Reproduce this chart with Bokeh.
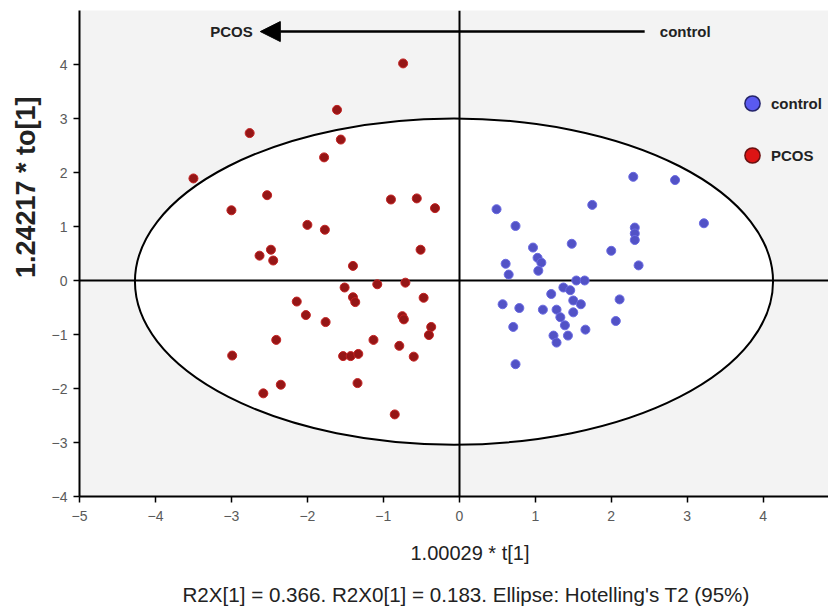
from bokeh.plotting import figure
from bokeh.models import (Range1d, Legend, LegendItem, Arrow, NormalHead, Title,
                          FixedTicker, ColumnDataSource, LabelSet)
from bokeh.core.properties import value
from bokeh.embed import file_html
from bokeh.resources import INLINE

# ---- data ----
pcos_x = [-0.74, -1.61, -2.76, -3.50, -1.78, -1.56, -2.53, -3.00, -0.90, -0.56,
          -0.32, -2.00, -1.77, -2.63, -2.48, -2.45, -1.40, -0.51, -1.51, -1.08,
          -0.71, -1.40, -1.37, -0.47, -2.14, -2.02, -1.76, -0.75, -0.73, -0.37,
          -0.40, -2.41, -1.13, -0.79, -2.99, -1.53, -1.43, -1.33, -0.60, -2.35,
          -1.34, -2.58, -0.85]
pcos_y = [4.02, 3.16, 2.73, 1.89, 2.28, 2.61, 1.58, 1.30, 1.50, 1.52,
          1.34, 1.03, 0.94, 0.46, 0.57, 0.37, 0.27, 0.57, -0.13, -0.07,
          -0.04, -0.31, -0.40, -0.32, -0.39, -0.64, -0.77, -0.66, -0.72, -0.86,
          -1.01, -1.10, -1.10, -1.21, -1.39, -1.40, -1.40, -1.36, -1.41, -1.93,
          -1.90, -2.09, -2.48]

control_x = [0.49, 0.74, 1.75, 1.48, 0.97, 1.03, 1.08, 1.04, 0.61, 0.65,
             2.29, 2.84, 3.22, 2.31, 2.31, 2.31, 2.00, 2.36, 1.21, 1.37,
             1.46, 1.54, 1.65, 1.50, 1.60, 0.57, 0.79, 1.10, 1.28, 1.33,
             1.39, 1.43, 1.50, 1.66, 1.24, 1.28, 0.71, 0.74, 2.11, 2.06]
control_y = [1.32, 1.01, 1.40, 0.68, 0.61, 0.42, 0.33, 0.18, 0.31, 0.11,
             1.92, 1.86, 1.06, 0.98, 0.87, 0.75, 0.55, 0.28, -0.25, -0.13,
             -0.18, 0.00, 0.00, -0.37, -0.44, -0.44, -0.51, -0.54, -0.54, -0.68,
             -0.83, -1.02, -0.59, -0.91, -1.02, -1.15, -0.86, -1.55, -0.35, -0.75]

x_ticks = [-5, -4, -3, -2, -1, 0, 1, 2, 3, 4]
y_ticks = [-4, -3, -2, -1, 0, 1, 2, 3, 4]

ellipse_cx = -0.07
ellipse_cy = -0.02
ellipse_semi_x = 4.2
ellipse_semi_y = 3.02

arrow_y = 4.61
arrow_from_x = 2.44
arrow_to_x = -2.62
arrow_labels = ["PCOS", "control"]
arrow_label_x = [-2.72, 2.64]

FONT = "Liberation Sans"
NAN = float("nan")

p = figure(width=828, height=608,
           x_range=Range1d(-5.0, 4.86), y_range=Range1d(-4.0, 5.0),
           output_backend="svg", toolbar_location=None,
           min_border_left=79, min_border_right=0,
           min_border_top=10, min_border_bottom=112,
           background_fill_color="#f3f3f3", border_fill_color="white",
           outline_line_color=None)
p.grid.visible = False

for ax, ticks in ((p.xaxis, x_ticks), (p.yaxis, y_ticks)):
    ax.ticker = FixedTicker(ticks=ticks)
    ax.axis_line_color = "black"
    ax.axis_line_width = 2
    ax.major_tick_line_color = "black"
    ax.major_tick_line_width = 1.5
    ax.major_tick_in = 0
    ax.major_tick_out = 6
    ax.minor_tick_line_color = None
    ax.major_label_text_color = "#5a5a5a"
    ax.major_label_text_font = FONT
    ax.major_label_text_font_size = "14px"

p.xaxis.major_label_standoff = 8
p.yaxis.major_label_standoff = 6

p.add_layout(Title(text="1.00029 * t[1]", align="left", offset=331,
                   text_font=FONT, text_font_size="20px",
                   text_font_style="normal", text_color="#222222", standoff=32), "below")
p.add_layout(Title(text="R2X[1] = 0.366. R2X0[1] = 0.183. Ellipse: Hotelling's T2 (95%)",
                   align="left", offset=103, text_font=FONT, text_font_size="20.6px",
                   text_font_style="normal", text_color="#222222", standoff=3), "below")
p.add_layout(Title(text="1.24217 * to[1]", align="right", offset=86,
                   text_font=FONT, text_font_size="27px",
                   text_font_style="bold", text_color="#222222", standoff=15), "left")

# Hotelling ellipse (white inside)
p.ellipse(x=[ellipse_cx], y=[ellipse_cy], width=[2 * ellipse_semi_x], height=[2 * ellipse_semi_y],
          fill_color="white", line_color="black", line_width=2)

# zero lines
p.hspan(y=[0], line_color="black", line_width=2)
p.vspan(x=[0], line_color="black", line_width=2)

# points
p.scatter(pcos_x, pcos_y, size=9, fill_color="#951616", line_color="#c42222", line_width=1)
p.scatter(control_x, control_y, size=9, fill_color="#5252c6", line_color="#6a6ae2", line_width=1)

# arrow
p.add_layout(Arrow(end=NormalHead(size=20, fill_color="black", line_color="black"),
                   x_start=arrow_from_x, y_start=arrow_y, x_end=arrow_to_x, y_end=arrow_y,
                   line_color="black", line_width=2.5))
src = ColumnDataSource(dict(x=arrow_label_x, y=[arrow_y, arrow_y], t=arrow_labels,
                            align=["right", "left"]))
p.add_layout(LabelSet(x="x", y="y", text="t", source=src, text_align="align",
                      text_baseline="middle", text_font=value(FONT), text_font_size=value("15px"),
                      text_font_style=value("bold"), text_color=value("#222222")))

# legend
leg_c = p.scatter(x=[NAN], y=[NAN], size=16, fill_color="#5a5af0", line_color="#24246a", line_width=1.5)
leg_p = p.scatter(x=[NAN], y=[NAN], size=16, fill_color="#dd1414", line_color="#6a1010", line_width=1.5)
legend = Legend(items=[LegendItem(label="control", renderers=[leg_c]),
                       LegendItem(label="PCOS", renderers=[leg_p])],
                location=(654, 318), glyph_width=38, glyph_height=46, spacing=6,
                padding=0, margin=0, label_standoff=0,
                border_line_color=None, background_fill_alpha=0,
                label_text_font=FONT, label_text_font_size="15px",
                label_text_font_style="bold", label_text_color="#222222")
p.add_layout(legend)

open("out.html", "w").write(file_html(p, INLINE))
